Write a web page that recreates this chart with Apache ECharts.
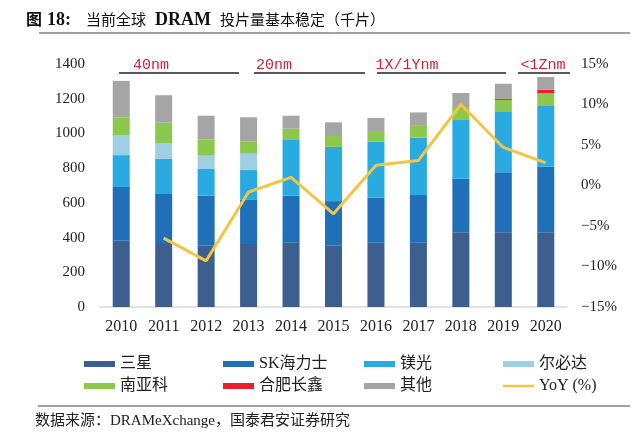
<!DOCTYPE html>
<html><head><meta charset="utf-8">
<script src="https://cdn.jsdelivr.net/npm/echarts@6/dist/echarts.min.js"></script>
<style>html,body{margin:0;padding:0;background:#fff}#c{width:640px;height:443px}</style>
</head><body><div id="c"></div>
<script>
const years = ['2010','2011','2012','2013','2014','2015','2016','2017','2018','2019','2020'];
const samsung = [382,363,353,363,370,353,370,370,430,430,430];
const hynix   = [309,288,288,257,271,257,259,275,311,347,378];
const micron  = [184,202,154,169,321,313,323,332,336,351,350];
const elpida  = [113,92,77,94,0,0,0,0,0,0,0];
const nanya   = [104,117,94,69,65,62,62,71,75,65,73];
const hefei   = [0,0,0,0,0,0,0,0,0,8,21];
const others  = [211,158,136,141,75,79,75,73,81,85,73];
const yoy     = [null,-6.5,-9.3,-0.8,1.0,-3.5,2.5,3.1,10.0,4.7,2.8];
const leftTicks = {min:0, max:1400, interval:200};
const rightTicks = {min:-15, max:15, interval:5};
const nodeLabels = ['40nm','20nm','1X/1Ynm','<1Znm'];

const serif = "'Liberation Serif','Noto Sans CJK SC',serif";
const chart = echarts.init(document.getElementById('c'), null, {renderer:'canvas'});

const barNames = ['三星','SK海力士','镁光','尔必达','南亚科','合肥长鑫','其他'];
const barData = [samsung,hynix,micron,elpida,nanya,hefei,others];
const barColors = ['#3c5f8f','#1f70b9','#29abe2','#9fcfe2','#8cc84b','#e8202a','#a5a5a5'];

const series = barNames.map((n,i)=>({
  name:n, type:'bar', stack:'t', yAxisIndex:0, barWidth:17,
  data:barData[i], itemStyle:{color:barColors[i]}
}));
series.push({name:'YoY (%)', type:'line', yAxisIndex:1, data:yoy, symbol:'none',
  lineStyle:{color:'#f4c544', width:3}, itemStyle:{color:'#f4c544'}});

function legendCol(x, y, names, h){
  return {orient:'vertical', left:x, top:y, itemWidth:31, itemHeight:h||6, itemGap:6,
    data:names.map(n=>({name:n, icon:'rect'})),
    textStyle:{fontFamily:serif, fontSize:16, color:'#222', lineHeight:16}, selectedMode:false};
}

const annX = [[119,239],[254,365],[377,506],[518,570]];
const annC = [151,274,407,543];
const graphics = [
  {type:'text', left:26, top:11, style:{text:'图', font:"bold 16px 'Noto Sans CJK SC'", fill:'#111'}},
  {type:'text', left:47, top:11, style:{text:'18:', font:"bold 18px 'Liberation Serif'", fill:'#111'}},
  {type:'text', left:86, top:12, style:{text:'当前全球', font:"15px 'Noto Sans CJK SC'", fill:'#111'}},
  {type:'text', left:155, top:11, style:{text:'DRAM', font:"bold 18px 'Liberation Serif'", fill:'#111'}},
  {type:'text', left:220, top:12, style:{text:'投片量基本稳定（千片）', font:"15px 'Noto Sans CJK SC'", fill:'#111'}},
  {type:'line', shape:{x1:39,y1:33,x2:630,y2:33}, style:{stroke:'#444', lineWidth:1}},
  {type:'line', shape:{x1:38,y1:406,x2:630,y2:406}, style:{stroke:'#444', lineWidth:1}},
  {type:'text', left:35, top:414, style:{text:'数据来源：DRAMeXchange，国泰君安证券研究', font:"15px 'Liberation Serif','Noto Sans CJK SC'", fill:'#222'}}
];
annX.forEach((a,i)=>{
  graphics.push({type:'line', shape:{x1:a[0],y1:73,x2:a[1],y2:73}, style:{stroke:'#222', lineWidth:1.5}});
  graphics.push({type:'text', x:annC[i], y:65,
    style:{text:nodeLabels[i], font:"15px 'Liberation Mono'", fill:'#c8243a', textAlign:'center', textVerticalAlign:'middle'}});
});

chart.setOption({
  animation:false,
  grid:{left:100, right:73, top:64, bottom:136},
  legend:[legendCol(79,351,['三星','南亚科']), legendCol(218,351,['SK海力士','合肥长鑫']), legendCol(359,351,['镁光','其他']),
          legendCol(498,351,['尔必达']), legendCol(498,373,['YoY (%)'],2.5)],
  xAxis:{type:'category', data:years, axisLine:{lineStyle:{color:'#d9d9d9', width:1.5}}, axisTick:{show:false},
    axisLabel:{fontFamily:serif, fontSize:16, color:'#222', margin:12}},
  yAxis:[
    {type:'value', min:leftTicks.min, max:leftTicks.max, interval:leftTicks.interval, splitLine:{show:false},
     axisLine:{show:false}, axisTick:{show:false}, axisLabel:{fontFamily:serif, fontSize:15, color:'#222', margin:15, formatter:v=>String(v)}},
    {type:'value', min:rightTicks.min, max:rightTicks.max, interval:rightTicks.interval, splitLine:{show:false},
     axisLine:{show:false}, axisTick:{show:false},
     axisLabel:{fontFamily:serif, fontSize:15, color:'#222', margin:14, formatter:v=>String(v).replace('-','−')+'%'}}
  ],
  series:series,
  graphic:graphics
});
</script></body></html>
